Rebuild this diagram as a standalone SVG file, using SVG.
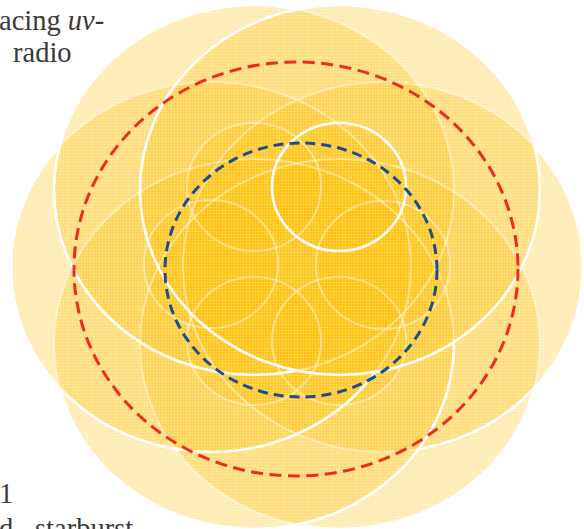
<svg xmlns="http://www.w3.org/2000/svg" width="584" height="529" viewBox="0 0 584 529">
<style>
.fill{fill:#FFC000;fill-opacity:0.31;stroke:none}
.faint{fill:none;stroke:#FFFFFF;stroke-opacity:0.45;stroke-width:2}
.bright{fill:none;stroke:#FFFFFF;stroke-width:2.6}
.txt{font-family:"Liberation Serif","Times New Roman",serif;font-size:28.5px;fill:#3a3a3a}
</style>
<defs>
<ellipse id="LBR" cx="340" cy="344" rx="200" ry="185"/>
<ellipse id="LR" cx="383" cy="267" rx="200" ry="185"/>
<ellipse id="LBL" cx="254" cy="344" rx="200" ry="185"/>
<ellipse id="LL" cx="211" cy="267" rx="200" ry="185"/>
<ellipse id="LTL" cx="254" cy="190" rx="200" ry="185"/>
<ellipse id="LTR" cx="340" cy="190" rx="200" ry="185"/>
<ellipse id="SBR" cx="339" cy="341" rx="67" ry="64"/>
<ellipse id="SR" cx="383" cy="265" rx="67" ry="64"/>
<ellipse id="SBL" cx="254" cy="341" rx="67" ry="64"/>
<ellipse id="SL" cx="211" cy="264" rx="67" ry="64"/>
<ellipse id="STL" cx="254" cy="187" rx="67" ry="64"/>
<ellipse id="STR" cx="339" cy="187" rx="67" ry="64"/>
<pattern id="grid" patternUnits="userSpaceOnUse" width="3" height="3">
<path d="M0 0.5H3M0.5 0V3" stroke="#FFFFFF" stroke-width="0.8" stroke-opacity="0.22" fill="none"/>
</pattern>
<clipPath id="union">
<use href="#LBR"/><use href="#LR"/><use href="#LBL"/><use href="#LL"/><use href="#LTL"/><use href="#LTR"/>
</clipPath>
<mask id="mBR" maskUnits="userSpaceOnUse" x="0" y="0" width="584" height="529">
<rect width="584" height="529" fill="#fff"/>
<g fill="#000"><use href="#LR"/><use href="#LBL"/><use href="#LL"/><use href="#LTL"/><use href="#LTR"/></g>
</mask>
<mask id="mR" maskUnits="userSpaceOnUse" x="0" y="0" width="584" height="529">
<rect width="584" height="529" fill="#fff"/>
<g fill="#000"><use href="#LBL"/><use href="#LL"/><use href="#LTL"/><use href="#LTR"/></g>
</mask>
<mask id="mBL" maskUnits="userSpaceOnUse" x="0" y="0" width="584" height="529">
<rect width="584" height="529" fill="#fff"/>
<g fill="#000"><use href="#LL"/><use href="#LTL"/><use href="#LTR"/></g>
</mask>
<mask id="mL" maskUnits="userSpaceOnUse" x="0" y="0" width="584" height="529">
<rect width="584" height="529" fill="#fff"/>
<g fill="#000"><use href="#LTL"/><use href="#LTR"/></g>
</mask>
<mask id="mTL" maskUnits="userSpaceOnUse" x="0" y="0" width="584" height="529">
<rect width="584" height="529" fill="#fff"/>
<g fill="#000"><use href="#LTR"/></g>
</mask>
</defs>
<rect width="584" height="529" fill="#FFFFFF"/>
<g id="text">
<text class="txt" x="-1" y="30">acing <tspan font-style="italic">uv</tspan>-</text>
<text class="txt" x="13" y="62">radio</text>
<text class="txt" x="-1" y="503">1</text>
<text class="txt" x="-1" y="538">d</text>
<text class="txt" x="35" y="538">starburst</text>
</g>
<g id="fills">
<use href="#LBR" class="fill"/><use href="#SBR" class="fill"/>
<use href="#LR" class="fill"/><use href="#SR" class="fill"/>
<use href="#LBL" class="fill"/><use href="#SBL" class="fill"/>
<use href="#LL" class="fill"/><use href="#SL" class="fill"/>
<use href="#LTL" class="fill"/><use href="#STL" class="fill"/>
<use href="#LTR" class="fill"/><use href="#STR" class="fill"/>
<rect width="584" height="529" fill="url(#grid)" clip-path="url(#union)"/>
</g>
<g id="faint-outlines">
<use href="#LBR" class="faint"/><use href="#LR" class="faint"/><use href="#LBL" class="faint"/>
<use href="#LL" class="faint"/><use href="#LTL" class="faint"/><use href="#LTR" class="faint"/>
<use href="#SBR" class="faint"/><use href="#SR" class="faint"/><use href="#SBL" class="faint"/>
<use href="#SL" class="faint"/><use href="#STL" class="faint"/>
</g>
<g id="bright-outlines">
<use href="#LBR" class="bright" mask="url(#mBR)"/>
<use href="#LR" class="bright" mask="url(#mR)"/>
<use href="#LBL" class="bright" mask="url(#mBL)"/>
<use href="#LL" class="bright" mask="url(#mL)"/>
<use href="#LTL" class="bright" mask="url(#mTL)"/>
<use href="#LTR" class="bright"/>
<use href="#STR" class="bright"/>
</g>
<g id="red-circle">
<ellipse cx="296" cy="269" rx="222" ry="207" fill="none" stroke="#EE2A24" stroke-width="3" stroke-dasharray="12 6.5"/>
</g>
<g id="blue-circle">
<ellipse cx="301" cy="270" rx="136" ry="127" fill="none" stroke="#1B4F8A" stroke-width="3" stroke-dasharray="10 6"/>
</g>
</svg>
